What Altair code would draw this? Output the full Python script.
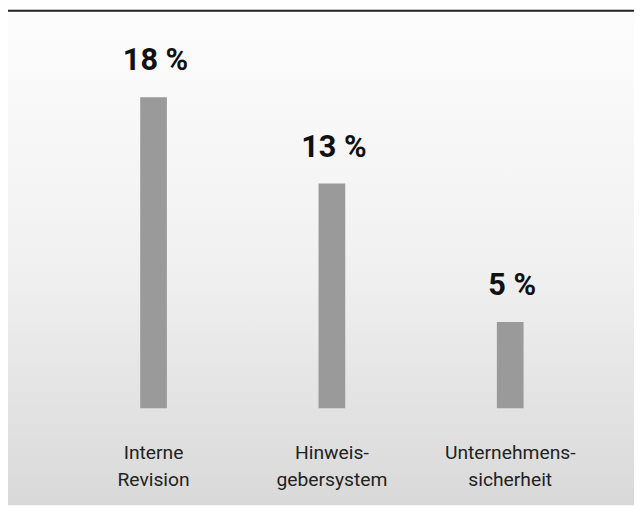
import altair as alt
import pandas as pd

categories = ["Interne\nRevision", "Hinweis-\ngebersystem", "Unternehmens-\nsicherheit"]
values = [18, 13, 5]
labels = ["18 %", "13 %", "5 %"]

df = pd.DataFrame({"cat": categories, "val": values, "lab": labels})

W, H = 633, 500
FONT = "Roboto"

xscale = alt.Scale(domain=categories, range=[57, 598], paddingInner=0, paddingOuter=0)
yscale = alt.Scale(domain=[0, 23], range=[402, 0])

bg = alt.Chart(pd.DataFrame({"a": [0]})).mark_rect(
    fill=alt.Gradient(
        gradient="linear",
        stops=[alt.GradientStop(color="#fdfdfd", offset=0),
               alt.GradientStop(color="#f1f1f1", offset=0.5),
               alt.GradientStop(color="#d9d9d9", offset=1)],
        x1=0, x2=0, y1=0, y2=1,
    )
).encode(x=alt.value(0), x2=alt.value(W), y=alt.value(1), y2=alt.value(H))

topline = alt.Chart(pd.DataFrame({"a": [0]})).mark_rule(color="#222222", strokeWidth=2).encode(
    x=alt.value(0), x2=alt.value(W), y=alt.value(0)
)

base = alt.Chart(df)

bars = base.mark_bar(size=27, color="#9a9a9a").encode(
    x=alt.X("cat:N", scale=xscale, axis=None, sort=categories),
    y=alt.Y("val:Q", scale=yscale, axis=None),
)

vlabels = base.mark_text(
    font=FONT, fontSize=31, fontWeight="bold", color="#111111",
    baseline="alphabetic", dy=-27, dx=2,
).encode(
    x=alt.X("cat:N", scale=xscale, axis=None, sort=categories),
    y=alt.Y("val:Q", scale=yscale, axis=None),
    text="lab:N",
)

clabels = base.mark_text(
    font=FONT, fontSize=19.5, color="#222222", baseline="alphabetic",
    lineBreak="\n", lineHeight=28,
).encode(
    x=alt.X("cat:N", scale=xscale, axis=None, sort=categories),
    y=alt.value(453),
    text="cat:N",
)

chart = alt.layer(bg, topline, bars, vlabels, clabels).properties(
    width=W, height=H, padding=0, autosize=alt.AutoSizeParams(type="none"),
    background="white",
).configure_view(strokeWidth=0)

chart.save("out.html", embed_options={"renderer": "svg", "actions": False})
